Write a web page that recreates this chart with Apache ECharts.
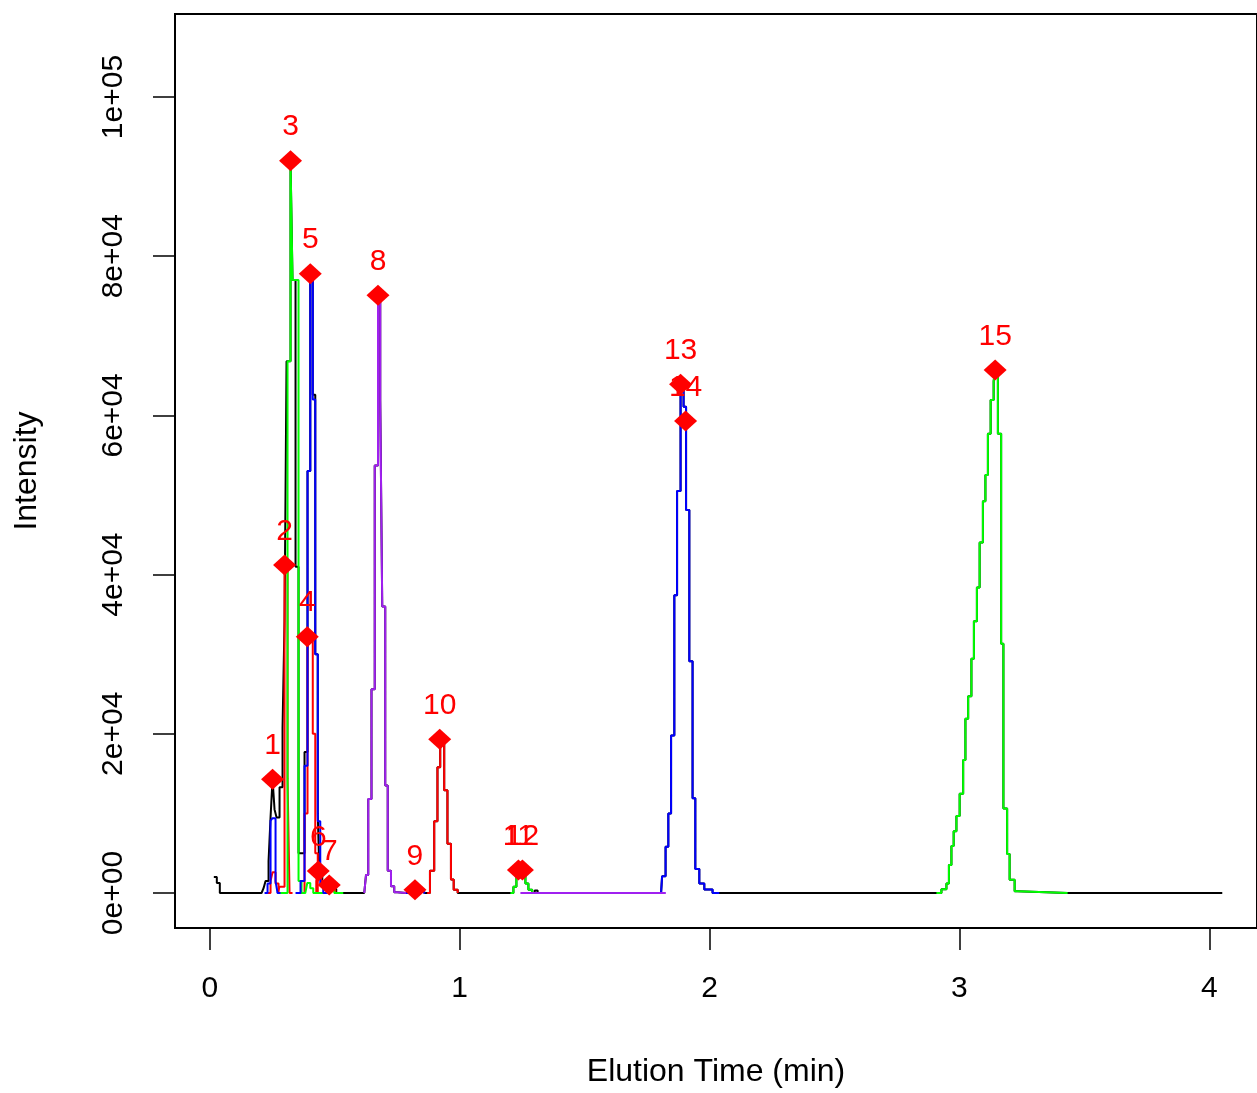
<!DOCTYPE html>
<html><head><meta charset="utf-8">
<script src="https://cdn.jsdelivr.net/npm/echarts@6/dist/echarts.min.js"></script>
<style>html,body{margin:0;padding:0;background:#fff;}#c{width:1257px;height:1093px;}</style>
</head><body><div id="c"></div>
<script>
// ---- tick labels ----
const xTickValues = [0, 1, 2, 3, 4];
const xTickLabels = ['0', '1', '2', '3', '4'];
const yTickValues = [0, 20000, 40000, 60000, 80000, 100000];
const yTickLabels = ['0e+00', '2e+04', '4e+04', '6e+04', '8e+04', '1e+05'];

// ---- total trace (black), early part incl. co-eluting cluster ----
const blackEarlyT = [0.016,0.028,0.040,0.207,0.215,0.223,0.235,0.243,0.251,0.259,0.267,0.279,0.291,0.299,0.307,0.323,0.331,0.343,0.355,0.367,0.379,0.391,0.402,0.412,0.422,0.432,0.438,0.450,0.462,0.478,0.490,0.506];
const blackEarlyI = [2000,1250,0,0,600,1500,4000,9500,14300,10500,9500,13300,20800,34200,66800,92000,77000,41000,5000,5000,17700,53000,77800,62600,30000,10000,2750,1500,800,1000,500,0];
const blackTailT = [1.300, 1.312, 4.052];
const blackTailI = [300, 0, 0];

// ---- component traces ----
const blue1T = [0.219,0.231,0.243,0.251,0.263,0.271,0.283];
const blue1I = [0,1200,9100,9400,1500,0,0];
const red1T = [0.231,0.243,0.251,0.263,0.275];
const red1I = [0,1500,2600,1200,0];
const red2T = [0.271,0.279,0.299,0.311,0.319,0.331];
const red2I = [0,800,41200,14400,0,0];
const green3T = [0.271,0.311,0.323,0.331,0.355,0.367,0.382,0.390,0.402,0.414,0.462,0.474,0.486,0.498,0.534];
const green3I = [0,66800,92000,77000,1500,0,0,1250,600,0,0,700,400,0,0];
const red4T = [0.355,0.379,0.391,0.412,0.422,0.432,0.440];
const red4I = [0,10000,32200,20000,5000,0,0];
const blue5T = [0.343,0.363,0.379,0.391,0.402,0.412,0.422,0.432,0.442,0.454,0.470];
const blue5I = [0,1500,16000,53000,77800,62000,30000,9000,1000,0,0];
const red6T = [0.414,0.426,0.434,0.446,0.458,0.470,0.478,0.490,0.502,0.514];
const red6I = [0,1500,2750,1500,600,800,1000,400,0,0];
const purple8T = [0.618,0.625,0.634,0.647,0.660,0.673,0.682,0.690,0.702,0.712,0.725,0.738,0.750,0.785];
const purple8I = [0,2250,11800,25600,53700,75100,61900,36000,13500,2800,840,100,0,0];
const blue9T = [0.785,0.797,0.809,0.821,0.833,0.845,0.862];
const blue9I = [0,150,300,400,250,0,0];
const red10T = [0.870,0.881,0.898,0.911,0.922,0.938,0.951,0.965,0.976,0.992];
const red10I = [0,2800,9000,15800,19300,12900,6200,1700,400,0];
const purple11T = [1.243,1.825];
const purple11I = [0,0];
const green12T = [1.203,1.215,1.227,1.239,1.251,1.263,1.275,1.290];
const green12I = [0,800,2000,2600,2900,1200,400,0];
const blue13T = [1.806,1.810,1.824,1.835,1.846,1.859,1.870,1.884,1.896,1.906,1.919,1.932,1.943,1.959,1.979,2.012,2.039];
const blue13I = [0,2100,5800,10000,19800,37400,50500,63900,61100,48100,29100,11900,3000,1200,450,0,0];
const green15T = [2.908,2.928,2.948,2.958,2.968,2.977,2.988,3.001,3.015,3.024,3.035,3.048,3.058,3.070,3.081,3.094,3.104,3.114,3.125,3.137,3.143,3.154,3.167,3.176,3.191,3.201,3.221,3.232,3.433];
const green15I = [0,470,1180,3530,5890,7770,9660,12480,16720,21900,24730,29440,34150,38390,44040,49220,52520,57700,61940,64300,65700,57700,31300,10600,4900,1650,235,0,0];

// ---- detected peaks (markers) ----
const peakLabels = ['1','2','3','4','5','6','7','8','9','10','11','12','13','14','15'];
const peakTimes = [0.251,0.299,0.323,0.390,0.402,0.434,0.478,0.673,0.821,0.920,1.235,1.251,1.884,1.904,3.143];
const peakInts = [14300,41200,92000,32200,77800,2750,1000,75100,400,19300,2900,2900,63900,59300,65700];

const FONT = '"Liberation Sans", Arial, sans-serif';
const pairs = (t, v) => t.map((x, i) => [x, v[i]]);

const blackData = [].concat(
  pairs(blackEarlyT, blackEarlyI),
  pairs(purple8T, purple8I),
  pairs(blue9T, blue9I),
  pairs(red10T, red10I),
  pairs(green12T, green12I),
  pairs(blackTailT.slice(0, 2), blackTailI.slice(0, 2)),
  pairs(blue13T, blue13I),
  pairs(green15T, green15I),
  pairs(blackTailT.slice(2), blackTailI.slice(2))
);

const COL = { black: '#000000', red: '#FF0000', green: '#00FF00', blue: '#0000FF', purple: '#A020F0' };
function trace(t, v, color) {
  return {
    type: 'line', step: 'end', showSymbol: false, silent: true,
    data: pairs(t, v),
    lineStyle: { color: color, width: 2 },
    itemStyle: { color: color },
    animation: false
  };
}

const series = [
  trace([], [], COL.black),
  trace(red1T, red1I, COL.red),
  trace(red2T, red2I, COL.red),
  trace(red4T, red4I, COL.red),
  trace(red6T, red6I, COL.red),
  trace(red10T, red10I, COL.red),
  trace(green3T, green3I, COL.green),
  trace(green12T, green12I, COL.green),
  trace(green15T, green15I, COL.green),
  trace(blue1T, blue1I, COL.blue),
  trace(blue5T, blue5I, COL.blue),
  trace(blue9T, blue9I, COL.blue),
  trace(blue13T, blue13I, COL.blue),
  trace(purple8T, purple8I, COL.purple),
  trace(purple11T, purple11I, COL.purple)
];
series[0].data = blackData;
series.push({
  type: 'scatter', symbol: 'diamond', symbolSize: [23, 21], animation: false,
  itemStyle: { color: COL.red, opacity: 1 },
  data: peakTimes.map((t, i) => ({ value: [t, peakInts[i]], name: peakLabels[i] })),
  label: { show: true, position: 'top', distance: 8, formatter: p => p.name,
           color: COL.red, fontSize: 30, fontFamily: FONT },
  z: 10
});

const chart = echarts.init(document.getElementById('c'), null, { renderer: 'canvas' });
chart.setOption({
  backgroundColor: '#ffffff',
  animation: false,
  grid: { left: 175, top: 14, right: -5, bottom: 165, show: true, borderColor: '#000', borderWidth: 2, backgroundColor: 'transparent' },
  xAxis: {
    type: 'value', min: -0.1394, max: 4.191,
    splitLine: { show: false }, axisLine: { show: false, onZero: false },
    axisTick: { show: true, customValues: xTickValues, length: 22, inside: false, lineStyle: { color: '#000', width: 1.5 } },
    axisLabel: { customValues: xTickValues, formatter: v => xTickLabels[xTickValues.indexOf(v)],
                 fontSize: 30, color: '#000', margin: 46, fontFamily: FONT },
    name: 'Elution Time (min)', nameLocation: 'middle', nameGap: 128,
    nameTextStyle: { fontSize: 32, color: '#000', fontFamily: FONT }
  },
  yAxis: {
    type: 'value', min: -4397, max: 110427,
    splitLine: { show: false }, axisLine: { show: false, onZero: false },
    axisTick: { show: true, customValues: yTickValues, length: 22, inside: false, lineStyle: { color: '#000', width: 1.5 } },
    axisLabel: { customValues: yTickValues, formatter: v => yTickLabels[yTickValues.indexOf(v)],
                 rotate: 90, fontSize: 30, color: '#000', margin: 46, fontFamily: FONT },
    name: 'Intensity', nameLocation: 'middle', nameGap: 132, nameRotate: 90,
    nameTextStyle: { fontSize: 32, color: '#000', fontFamily: FONT }
  },
  series: series
});
</script></body></html>
